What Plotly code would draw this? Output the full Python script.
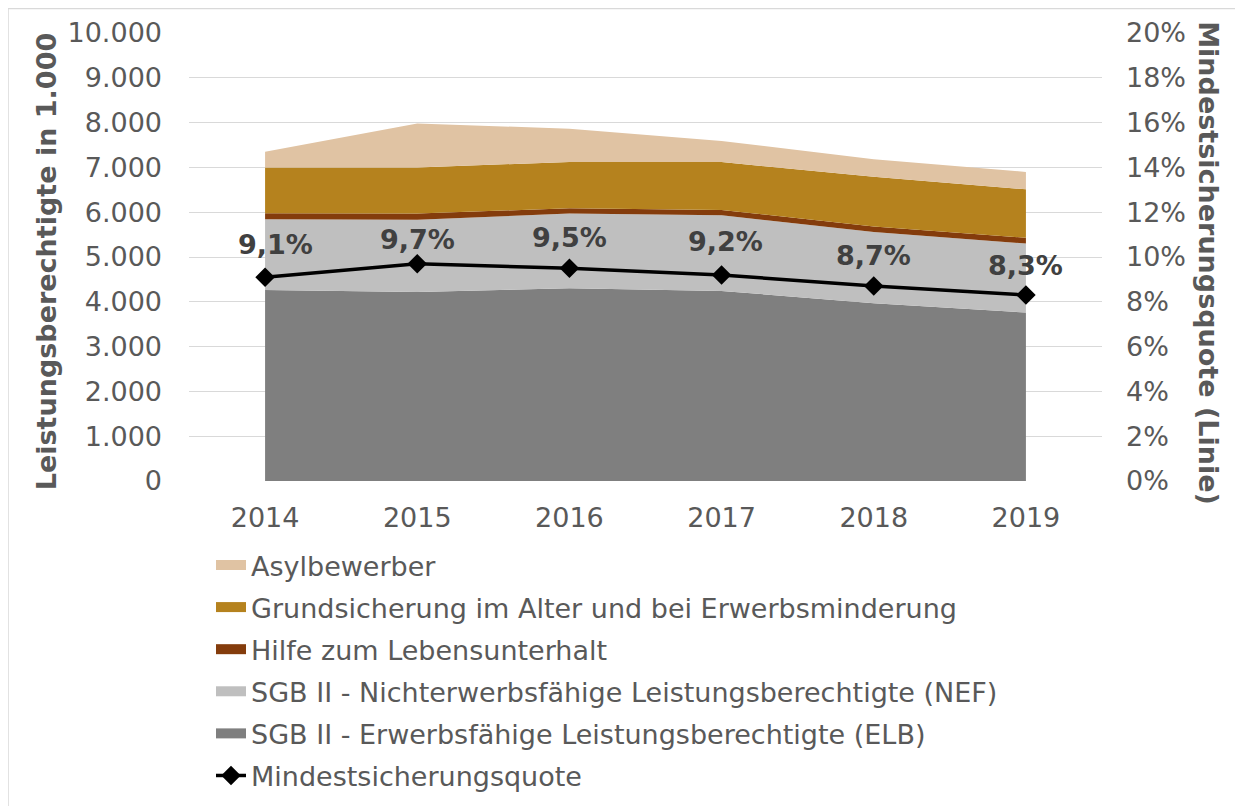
import plotly.graph_objects as go

years = ["2014", "2015", "2016", "2017", "2018", "2019"]
elb = [4265, 4220, 4300, 4243, 3970, 3760]
nef = [1575, 1610, 1670, 1687, 1590, 1540]
hilfe = [135, 140, 117, 120, 120, 130]
grund = [1020, 1030, 1033, 1070, 1110, 1080]
asyl = [355, 980, 745, 470, 390, 390]
quote = [0.091, 0.097, 0.095, 0.092, 0.087, 0.083]

names = {
    "asyl": "Asylbewerber",
    "grund": "Grundsicherung im Alter und bei Erwerbsminderung",
    "hilfe": "Hilfe zum Lebensunterhalt",
    "nef": "SGB II - Nichterwerbsfähige Leistungsberechtigte (NEF)",
    "elb": "SGB II - Erwerbsfähige Leistungsberechtigte (ELB)",
    "quote": "Mindestsicherungsquote",
}

FONT = "DejaVu Sans"
TXT = "#595959"
FS = 27
label_dx = [10, 0, 0, 4, 0, 0]
label_dy = [33, 24, 31, 33, 31, 30]

fig = go.Figure()
area_specs = [
    ("elb", elb, "#7F7F7F", 5),
    ("nef", nef, "#BFBFBF", 4),
    ("hilfe", hilfe, "#843C0C", 3),
    ("grund", grund, "#B5821E", 2),
    ("asyl", asyl, "#E0C3A3", 1),
]
for key, vals, col, rank in area_specs:
    fig.add_trace(go.Scatter(
        x=years, y=vals, name=names[key], stackgroup="one",
        mode="none", fillcolor=col, line=dict(width=0, color=col),
        showlegend=False, hoverinfo="x+y+name",
    ))
    # legend swatch entry
    fig.add_trace(go.Scatter(
        x=[None], y=[None], name=names[key], mode="lines",
        line=dict(color=col, width=13), legendrank=rank, legendgroup=key,
        showlegend=True, hoverinfo="skip",
    ))

fig.add_trace(go.Scatter(
    x=years, y=quote, name=names["quote"], yaxis="y2",
    mode="lines+markers", line=dict(color="#000000", width=3.5),
    marker=dict(symbol="diamond", size=15, color="#000000"),
    legendrank=6, legendgroup="quote",
))

for i, q in enumerate(quote):
    fig.add_annotation(
        x=i, y=q, xref="x", yref="y2",
        text=("%.1f%%" % (q * 100)).replace(".", ","),
        showarrow=False, yshift=label_dy[i], xshift=label_dx[i],
        font=dict(family=FONT, size=FS, color="#404040", weight="bold"),
    )

fig.add_annotation(
    text="Leistungsberechtigte in 1.000", xref="paper", yref="paper",
    x=(46 - 189) / 913, y=(482 - 263) / 448.5, textangle=-90, showarrow=False,
    font=dict(family=FONT, size=FS, color=TXT, weight="bold"),
    xanchor="center", yanchor="middle",
)
fig.add_annotation(
    text="Mindestsicherungsquote (Linie)", xref="paper", yref="paper",
    x=(1209 - 189) / 913, y=(482 - 264) / 448.5, textangle=90, showarrow=False,
    font=dict(family=FONT, size=FS, color=TXT, weight="bold"),
    xanchor="center", yanchor="middle",
)

fig.add_shape(type="rect", xref="paper", yref="paper",
              x0=(8 - 189) / 913, y0=-1, x1=1.5, y1=(482 - 9) / 448.5,
              line=dict(color="#D9D9D9", width=1.5), fillcolor="rgba(0,0,0,0)", layer="below")

fig.update_layout(
    width=1235, height=798,
    margin=dict(l=181, r=141, t=25, b=324.5, autoexpand=False),
    paper_bgcolor="white", plot_bgcolor="white",
    separators=",.",
    font=dict(family=FONT, size=FS, color=TXT),
    showlegend=True,
    legend=dict(
        x=(211 - 189) / 913, y=(482 - 542) / 448.5, xanchor="left", yanchor="top",
        traceorder="grouped", tracegroupgap=4,
        font=dict(family=FONT, size=FS, color=TXT),
        bgcolor="rgba(0,0,0,0)",
    ),
    xaxis=dict(
        type="category", range=[-0.5, 5.5], showgrid=False, showline=False,
        ticks="", ticklabelstandoff=18, tickfont=dict(size=FS, color=TXT),
    ),
    yaxis=dict(
        range=[0, 10000], dtick=1000, tickformat=",.0f",
        gridcolor="#D9D9D9", gridwidth=1, zeroline=False, showline=False,
        ticks="", ticklabelstandoff=26, tickfont=dict(size=FS, color=TXT),
    ),
    yaxis2=dict(
        range=[0, 0.2], dtick=0.02, tickformat=".0%", overlaying="y", side="right",
        showgrid=False, zeroline=False, showline=False,
        ticks="", ticklabelstandoff=23, tickfont=dict(size=FS, color=TXT),
    ),
)

fig.write_html("out.html")
